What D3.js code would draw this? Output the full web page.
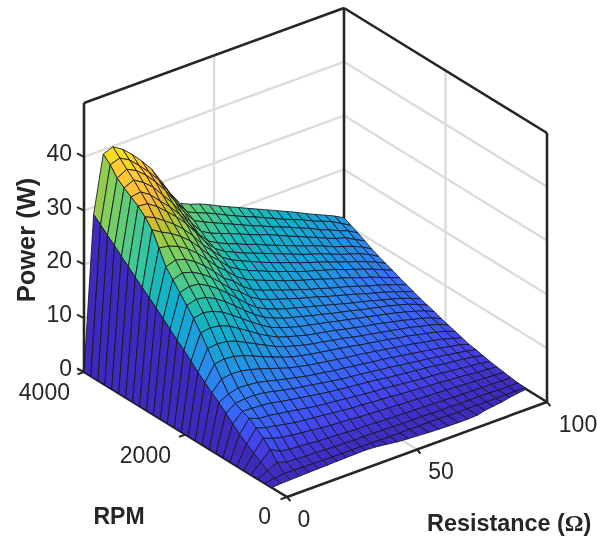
<!DOCTYPE html>
<html><head><meta charset="utf-8">
<script src="https://cdn.jsdelivr.net/npm/d3@7"></script>
<style>html,body{margin:0;padding:0;background:#fff}svg{display:block;filter:blur(0.35px)}</style></head>
<body><svg id="c" width="597" height="538"></svg>
<script>
const resistanceValues=[0,3.7,7.4,11.1,14.8,18.5,22.2,25.9,29.6,33.3,37,40.7,44.4,48.1,51.9,55.6,59.3,63,66.7,70.4,74.1,77.8,81.5,85.2,88.9,92.6,96.3,100];
const rpmValues=[300,437,574,711,848,985,1122,1259,1396,1533,1670,1807,1944,2081,2219,2356,2493,2630,2767,2904,3041,3178,3315,3452,3589,3726,3863,4000];
const frontRpm=[300,305,310,315,322,328,333,339,344,350,355,343,317,286,270,258,245,235,230,225,225,236,275,298,320,355,380,400];
const zTicks=[0,10,20,30,40];
const rTicks=[0,50,100];
const nTicks=[0,2000,4000];
const power00=[0,.1,.1,.1,.1,.1,.1,.1,.1,.1,.1,.1,.1,.1,.1,.1,.1,.1,.1,.1,.1,.1,.1,.1,.1,.1,.1,.1];
const power01=[0,.3,.5,.5,.4,.4,.4,.3,.3,.3,.3,.3,.2,.2,.2,.2,.2,.2,.2,.1,.1,.1,.1,.1,.1,.1,.1,.1];
const power02=[0,.9,1.8,1.2,1.1,1,1,.9,.8,.8,.7,.7,.7,.6,.6,.5,.5,.5,.4,.4,.4,.3,.3,.3,.3,.2,.2,.2];
const power03=[0,1.7,3.4,2.4,2.1,2,1.9,1.7,1.6,1.5,1.4,1.3,1.3,1.2,1.1,1,1,.9,.9,.8,.7,.7,.6,.6,.5,.5,.4,.4];
const power04=[0,2.6,4.7,4,3.6,3.3,3.1,2.9,2.7,2.5,2.4,2.3,2.1,2,1.9,1.8,1.7,1.6,1.5,1.4,1.3,1.2,1.1,1,.9,.8,.7,.6];
const power05=[0,3.5,5.8,5.2,4.9,4.5,4.2,4,3.8,3.6,3.4,3.2,3,2.9,2.7,2.6,2.5,2.3,2.2,2,1.9,1.8,1.6,1.5,1.3,1.1,1,.8];
const power06=[0,4.5,6.8,6.1,6,5.7,5.4,5.1,4.8,4.5,4.3,4.1,3.9,3.7,3.5,3.3,3.2,3,2.8,2.6,2.4,2.3,2.1,1.9,1.7,1.5,1.3,1];
const power07=[0,5.6,7.3,7.2,7.1,6.9,6.5,6.2,5.9,5.6,5.3,5,4.8,4.6,4.4,4.2,4,3.7,3.5,3.3,3.1,2.9,2.7,2.4,2.2,2,1.7,1.3];
const power08=[0,6.8,8,8.2,8.2,8,7.6,7.2,6.8,6.5,6.2,5.9,5.6,5.3,5.1,4.9,4.7,4.4,4.2,3.9,3.7,3.4,3.2,2.9,2.6,2.3,2,1.6];
const power09=[0,8,8.9,9.4,9.3,9.1,8.7,8.2,7.8,7.4,7,6.7,6.4,6.1,5.9,5.6,5.4,5.1,4.9,4.6,4.3,4,3.7,3.4,3.1,2.7,2.4,1.8];
const power10=[0,9,10.9,11.2,11.1,10.7,10.2,9.6,9,8.4,8,7.6,7.3,7,6.7,6.4,6.2,5.9,5.6,5.3,5,4.7,4.4,4,3.7,3.3,2.8,2.2];
const power11=[0,10.1,12.9,13.2,13,12.5,11.8,11,10.3,9.6,9,8.6,8.2,7.9,7.6,7.3,7,6.6,6.3,6,5.7,5.3,5,4.6,4.2,3.8,3.3,2.6];
const power12=[0,11.2,15,15.2,15,14.4,13.5,12.6,11.7,10.8,10.1,9.6,9.1,8.7,8.4,8,7.7,7.3,6.9,6.6,6.2,5.9,5.5,5.2,4.7,4.3,3.8,3];
const power13=[0,12.5,17.1,17.4,17.1,16.4,15.3,14.2,13,12,11.1,10.5,10,9.5,9.1,8.8,8.4,8,7.6,7.2,6.9,6.5,6.1,5.7,5.2,4.8,4.2,3.4];
const power14=[0,13.7,19,19.4,19,18.2,17,15.7,14.4,13.2,12.1,11.4,10.8,10.3,9.9,9.5,9.1,8.7,8.3,7.9,7.5,7.1,6.7,6.3,5.8,5.3,4.7,3.9];
const power15=[0,14.8,20.6,21.1,20.8,19.9,18.7,17.3,15.8,14.4,13.2,12.4,11.7,11.2,10.7,10.2,9.8,9.3,8.9,8.5,8,7.6,7.2,6.8,6.3,5.8,5.1,4.3];
const power16=[0,16,22.2,22.7,22.5,21.5,20.3,18.8,17.2,15.6,14.2,13.3,12.6,12,11.5,11,10.5,10,9.5,9,8.5,8.1,7.6,7.1,6.6,6.1,5.4,4.7];
const power17=[0,17.2,23.8,24.4,23.9,22.9,21.6,20,18.2,17,15.4,14.3,13.6,13,12.4,11.8,11.3,10.8,10.2,9.7,9.2,8.7,8.1,7.6,7.1,6.5,5.9,5.2];
const power18=[0,18.4,25.4,26,25.5,24.4,23,21.3,19.4,18.2,16.5,15.3,14.5,13.9,13.2,12.6,12,11.4,10.9,10.3,9.8,9.3,8.7,8.1,7.6,7,6.4,5.7];
const power19=[0,19.5,28.1,27.8,27.1,26,24.5,22.7,20.8,19.3,17.6,16.4,15.6,14.9,14.2,13.5,12.9,12.3,11.8,11.2,10.6,10.1,9.5,8.8,8.3,7.6,6.9,6.2];
const power20=[0,20.6,30.7,29.6,28.7,27.5,26,24.1,22,20.4,18.6,17.5,16.6,15.9,15.1,14.4,13.8,13.1,12.5,12,11.4,10.9,10.2,9.6,9,8.3,7.6,6.8];
const power21=[0,21.7,32.3,31.5,30.3,29,27.4,25.5,23.2,21.4,19.6,18.4,17.6,16.8,16,15.3,14.6,14,13.3,12.7,12.1,11.5,10.8,10.2,9.6,8.9,8.2,7.3];
const power22=[0,22.9,33.5,33.3,32.1,30.5,28.9,27,24.7,22.3,20.4,19.2,18.4,17.6,16.9,16.2,15.5,14.8,14.1,13.4,12.8,12.2,11.5,10.8,10.2,9.6,8.8,7.8];
const power23=[0,24,34.4,34.7,33.5,31.7,30,28,25.6,23,21,20,19.2,18.5,17.7,17.1,16.3,15.6,14.9,14.2,13.5,12.9,12.2,11.4,10.8,10.2,9.4,8.4];
const power24=[0,25.2,35.3,36.1,35,33.5,31.4,29.3,26.7,24.2,22,21,20.3,19.6,18.9,18.1,17.4,16.8,16,15.2,14.5,13.7,13,12.2,11.5,11,10,9.1];
const power25=[0,26.3,36.3,37.3,36.4,34.9,33,30.8,28.1,25.4,23.2,22.3,21.5,20.7,19.9,19.1,18.3,17.6,16.8,16.1,15.4,14.6,13.9,13,12.3,11.5,10.8,9.8];
const power26=[0,27.5,38,38.6,37.6,35.9,34.1,32,29.2,26.4,24,23.2,22.5,21.7,20.8,20,19.2,18.5,17.7,16.9,16.1,15.4,14.7,13.8,13.1,12.4,11.4,10.4];
const power27=[0,28.6,39.2,39.9,38.8,37.2,35.3,33.2,30.3,27.3,24.8,24,23.4,22.6,21.7,20.9,20.1,19.3,18.5,17.7,16.9,16.1,15.3,14.4,13.6,12.8,12,11];
const powerRows=[power00,power01,power02,power03,power04,power05,power06,power07,power08,power09,power10,power11,power12,power13,power14,power15,power16,power17,power18,power19,power20,power21,power22,power23,power24,power25,power26,power27];
const colorStops=[0,.02,.05,.09,.13,.21,.295,.4,.47,.51,.59,.67,.72,.77,.83,.9,.96,1];
const colorHexes=["#3e2abc","#4133d0","#4440e6","#4050f4","#3a60fa","#2f80f2","#1f9ade","#0fb0cc","#1cbab4","#33c5a0","#5ccc7a","#8ccf55","#a8c63a","#d4bd2c","#fdb93a","#fdc932","#f5e020","#f5e61e"];

const svg=d3.select("#c");
const rX=d3.scaleLinear().domain([0,100]).range([0,260]);
const rY=d3.scaleLinear().domain([0,100]).range([0,-95]);
const nX=d3.scaleLinear().domain([0,4000]).range([0,-203]);
const nY=d3.scaleLinear().domain([0,4000]).range([0,-125]);
const zY=d3.scaleLinear().domain([0,50]).range([0,-269]);
const color=d3.scaleLinear().domain(colorStops.map(t=>t*40)).range(colorHexes).clamp(true);
const px=(r,n)=>287+rX(r)+nX(n);
const py=(r,n,z)=>497+rY(r)+nY(n)+zY(z);
const P=(r,n,z)=>[px(r,n),py(r,n,z)];
const INK="#262626";
const line=d3.line();
const closed=d3.line().curve(d3.curveLinearClosed);
const seg=(a,b,stroke,w)=>svg.append("path").attr("d",line([a,b])).attr("fill","none").attr("stroke",stroke).attr("stroke-width",w);

const GRID="#dcdcdc";
zTicks.slice(1).forEach(z=>{
  seg(P(0,4000,z),P(100,4000,z),GRID,2.4);
  seg(P(100,4000,z),P(100,0,z),GRID,2.4);
});
seg(P(50,4000,0),P(50,4000,50),GRID,2.4);
seg(P(100,2000,0),P(100,2000,50),GRID,2.4);
seg(P(50,0,0),P(50,4000,0),GRID,2.4);
seg(P(0,2000,0),P(100,2000,0),GRID,2.4);

seg(P(0,4000,50),P(100,4000,50),INK,2.6);
seg(P(100,4000,50),P(100,0,50),INK,2.6);
seg(P(100,4000,0),P(100,4000,50),INK,2.6);
seg(P(100,0,0),P(100,0,50),INK,2.6);
seg(P(0,4000,0),P(0,4000,50),INK,2.6);
seg(P(100,0,0),P(100,4000,0),INK,2.6);
seg(P(0,4000,0),P(100,4000,0),INK,2.6);
seg(P(0,0,0),P(0,4000,0),INK,2.6);
seg(P(0,0,0),P(100,0,0),INK,2.6);

const tick=(a,dx,dy)=>seg(a,[a[0]+dx,a[1]+dy],INK,2);
zTicks.forEach(z=>tick(P(0,4000,z),-7,-3.5));
nTicks.forEach(n=>tick(P(0,n,0),-6.5,2.4));
rTicks.forEach(r=>tick(P(r,0,0),3.4,4.2));

const rowRpm=(j,i)=>j===0?frontRpm[i]:rpmValues[j];
const cells=[];
d3.range(rpmValues.length-2,-1,-1).forEach(j=>{
  d3.range(resistanceValues.length-2,-1,-1).forEach(i=>{
    cells.push({i,j});
  });
});
const V=(i,j)=>P(resistanceValues[i],rowRpm(j,i),powerRows[j][i]);
svg.append("g").selectAll("path").data(cells).join("path")
  .attr("d",d=>closed([V(d.i,d.j),V(d.i+1,d.j),V(d.i+1,d.j+1),V(d.i,d.j+1)]))
  .attr("fill",d=>color(powerRows[d.j][d.i]))
  .attr("stroke","#15151f").attr("stroke-width",0.85).attr("stroke-linejoin","round");

const FONT="'Liberation Sans',Arial,sans-serif";
const text=(s,x,y,size,weight,anchor)=>svg.append("text").attr("x",x).attr("y",y).text(s)
  .attr("font-family",FONT).attr("font-size",size).attr("font-weight",weight||"normal")
  .attr("text-anchor",anchor||"middle").attr("fill",INK);
zTicks.forEach(z=>text(z,72,py(0,4000,z)+4,23,"normal","end"));
text(nTicks[2],70,400,23,"normal","end");
text(nTicks[1],171,463,23,"normal","end");
text(nTicks[0],271,524,23,"normal","end");
text(rTicks[0],304,527,23,"normal","middle");
text(rTicks[1],441,479,23,"normal","middle");
text(rTicks[2],578,432,23,"normal","middle");
text("RPM",119,524,23,"bold","middle");
const rl=text("Resistance (",427,531,23.4,"bold","start");
rl.append("tspan").text("Ω").attr("font-family","'Liberation Serif',serif");
rl.append("tspan").text(")");
svg.append("text").attr("transform","translate(34.5,240) rotate(-90)").text("Power (W)")
  .attr("font-family",FONT).attr("font-size",25.5).attr("font-weight","bold").attr("text-anchor","middle").attr("fill",INK);
</script></body></html>
